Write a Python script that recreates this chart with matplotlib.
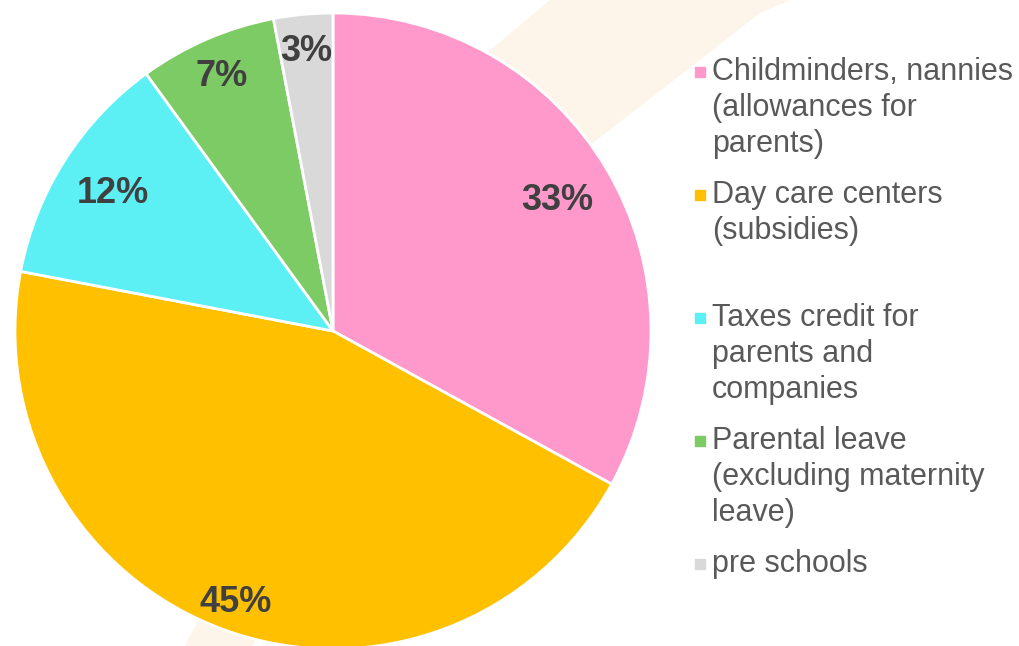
import numpy as np
import matplotlib
matplotlib.use("Agg")
import matplotlib.pyplot as plt
from matplotlib.patches import Polygon

plt.rcParams['font.family'] = ['Liberation Sans', 'DejaVu Sans']

categories = [
    "Childminders, nannies\n(allowances for\nparents)",
    "Day care centers\n(subsidies)",
    "Taxes credit for\nparents and\ncompanies",
    "Parental leave\n(excluding maternity\nleave)",
    "pre schools",
]
shares = [33, 45, 12, 7, 3]
colors = ["#FF99CC", "#FFC000", "#5CF0F5", "#7DCB64", "#D9D9D9"]
label_dist = [0.82, 0.90, 0.82, 0.88, 0.89]

W, H = 1020, 646
fig = plt.figure(figsize=(W / 100, H / 100), dpi=100)
ax = fig.add_axes([0, 0, 1, 1])

# faint brush stroke behind the pie
stroke = Polygon([(185, 0), (252, 0), (593, H - 143), (760, H - 13),
                  (790, H), (550, H), (488, H - 52)],
                 closed=True, facecolor="#FDF5E9", edgecolor="none", zorder=0)
ax.add_patch(stroke)

cx, cy, R = 333, H - 331, 318
wedges, _ = ax.pie(shares, colors=colors, startangle=90, counterclock=False,
                   center=(cx, cy), radius=R, frame=True,
                   wedgeprops=dict(edgecolor="white", linewidth=2))
ax.set_xlim(0, W)
ax.set_ylim(0, H)
ax.axis("off")

for w, v, d in zip(wedges, shares, label_dist):
    mid = np.deg2rad((w.theta1 + w.theta2) / 2)
    ax.text(cx + d * R * np.cos(mid), cy + d * R * np.sin(mid) - 2, f"{v}%",
            ha="center", va="center", fontsize=26, fontweight="bold",
            color="#404040", zorder=5)

# legend entries, evenly spaced
top = H - 57
step = 123
for i, (lab, c) in enumerate(zip(categories, colors)):
    y = top - i * step
    ax.scatter([700], [y - 15], marker="s", s=55, color=c, zorder=5)
    ax.text(712, y, lab, ha="left", va="top", fontsize=22,
            color="#595959", linespacing=1.25, zorder=5)

fig.savefig("out.png", dpi=100)
